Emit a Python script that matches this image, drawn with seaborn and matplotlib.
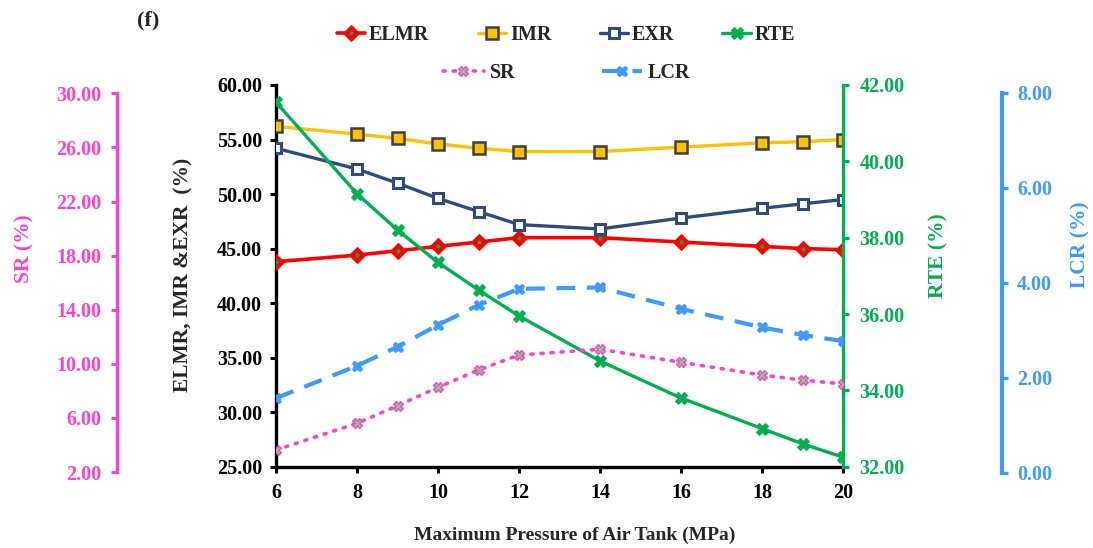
import matplotlib
matplotlib.use("Agg")
import matplotlib.pyplot as plt
import seaborn as sns
import numpy as np
from matplotlib.ticker import FormatStrFormatter
from matplotlib.legend_handler import HandlerTuple

# ---------------- data ----------------
pressure = [6, 8, 9, 10, 11, 12, 14, 16, 18, 19, 20]
elmr = [43.8, 44.4, 44.8, 45.2, 45.6, 46.0, 46.0, 45.6, 45.2, 45.0, 44.9]
imr = [56.2, 55.5, 55.1, 54.6, 54.2, 53.9, 53.9, 54.3, 54.7, 54.8, 55.0]
exr = [54.2, 52.3, 51.0, 49.6, 48.4, 47.2, 46.8, 47.8, 48.7, 49.1, 49.5]
rte = [41.55, 39.15, 38.2, 37.35, 36.63, 35.95, 34.77, 33.8, 33.0, 32.6, 32.25]
sr = [3.63, 5.60, 6.90, 8.26, 9.54, 10.65, 11.08, 10.11, 9.17, 8.80, 8.51]
lcr = [1.57, 2.25, 2.65, 3.11, 3.53, 3.87, 3.90, 3.45, 3.06, 2.90, 2.77]

x_ticks = [6, 8, 10, 12, 14, 16, 18, 20]
main_ticks = [25, 30, 35, 40, 45, 50, 55, 60]
rte_ticks = [32, 34, 36, 38, 40, 42]
sr_ticks = [2, 6, 10, 14, 18, 22, 26, 30]
lcr_ticks = [0, 2, 4, 6, 8]

# ---------------- style ----------------
sns.set_style("white")
plt.rcParams['font.family'] = ['Liberation Serif', 'DejaVu Serif']
plt.rcParams['font.weight'] = 'bold'
plt.rcParams['axes.labelweight'] = 'bold'

RED = '#FF0000'
ORANGE = '#FFC000'
NAVY = '#2E4A7E'
GREEN = '#00B050'
PINK = '#FF3FCF'
BLUE = '#3D9BFF'
BLACK = '#000000'
TFS = 14.5

W, H = 1093, 548
fig = plt.figure(figsize=(W / 100, H / 100), dpi=100)

def box(x0, x1, y_top, y_bot):
    return [x0 / W, 1 - y_bot / H, (x1 - x0) / W, (y_bot - y_top) / H]

ax = fig.add_axes(box(276, 843, 85, 466.7))
ax_rte = ax.twinx()
ax_sr = fig.add_axes(box(276, 843, 93.3, 472), sharex=ax)
ax_lcr = fig.add_axes(box(276, 843, 92.7, 472.7), sharex=ax)

for a in (ax_rte, ax_sr, ax_lcr):
    a.patch.set_visible(False)

# ---------------- lines ----------------
sns.lineplot(x=pressure, y=elmr, ax=ax, color=RED, lw=2.6, marker='D', ms=8.5,
             mfc=RED, mec=RED, label='ELMR', legend=False, zorder=5)
sns.lineplot(x=pressure, y=imr, ax=ax, color=ORANGE, lw=2.4, marker='s', ms=8.5,
             mfc=ORANGE, mec='#3F3F3F', mew=1.8, label='IMR', legend=False, zorder=5)
sns.lineplot(x=pressure, y=exr, ax=ax, color=NAVY, lw=2.4, marker='s', ms=7.5,
             mfc='white', mec=NAVY, mew=2.2, label='EXR', legend=False, zorder=5)
sns.lineplot(x=pressure, y=elmr, ax=ax, color=GREEN, linestyle='none', marker='o',
             ms=2.2, mfc=GREEN, mec=GREEN, legend=False, zorder=6)
sns.lineplot(x=pressure, y=rte, ax=ax_rte, color=GREEN, lw=2.4, marker='X', ms=8,
             mfc=GREEN, mec=GREEN, label='RTE', legend=False, zorder=5)
sns.lineplot(x=pressure, y=sr, ax=ax_sr, color=PINK, lw=2.6, linestyle=(0, (0.6, 2.2)),
             dash_capstyle='round', marker='X', ms=7, mfc='#7FD07F', mec=PINK, mew=1.0,
             label='SR', legend=False, zorder=5)
sns.lineplot(x=pressure, y=lcr, ax=ax_lcr, color=BLUE, lw=3.0, linestyle=(0, (4.5, 2.8)),
             marker='X', ms=7.5, mfc=BLUE, mec=BLUE, label='LCR', legend=False, zorder=5)

# ---------------- axes ----------------
ax.set_xlim(6, 20)
ax.set_xticks(x_ticks)
ax.set_ylim(25, 60)
ax.set_yticks(main_ticks)
ax_rte.set_ylim(32, 42)
ax_rte.set_yticks(rte_ticks)
ax_sr.set_ylim(2, 30)
ax_sr.set_yticks(sr_ticks)
ax_lcr.set_ylim(0, 8)
ax_lcr.set_yticks(lcr_ticks)

fmt = FormatStrFormatter('%.2f')
for a in (ax, ax_rte, ax_sr, ax_lcr):
    a.yaxis.set_major_formatter(fmt)
    for s in a.spines.values():
        s.set_visible(False)

# main axes
ax.spines['left'].set_visible(True)
ax.spines['left'].set_color(BLACK)
ax.spines['left'].set_linewidth(2.4)
ax.spines['bottom'].set_visible(True)
ax.spines['bottom'].set_color(BLACK)
ax.spines['bottom'].set_linewidth(2.4)
ax.tick_params(axis='both', which='major', direction='out', length=4, width=2.2,
               colors=BLACK, labelsize=TFS, pad=6, left=True, bottom=True)
ax.tick_params(axis='x', pad=8)

# RTE
ax_rte.spines['right'].set_visible(True)
ax_rte.spines['right'].set_color(GREEN)
ax_rte.spines['right'].set_linewidth(2.4)
ax_rte.tick_params(axis='y', direction='out', length=4, width=2.2, colors=GREEN,
                   labelsize=TFS, pad=8, right=True)

# SR
ax_sr.spines['left'].set_visible(True)
ax_sr.spines['left'].set_position(('axes', (116.7 - 276) / 567))
ax_sr.spines['left'].set_color(PINK)
ax_sr.spines['left'].set_linewidth(2.4)
ax_sr.yaxis.set_ticks_position('left')
ax_sr.yaxis.set_label_position('left')
ax_sr.tick_params(axis='y', direction='out', length=4, width=2.2, colors=PINK,
                  labelsize=TFS, pad=7, left=True)
ax_sr.xaxis.set_visible(False)

# LCR
ax_lcr.spines['right'].set_visible(True)
ax_lcr.spines['right'].set_position(('axes', (1001.7 - 276) / 567))
ax_lcr.spines['right'].set_color(BLUE)
ax_lcr.spines['right'].set_linewidth(3.0)
ax_lcr.yaxis.set_ticks_position('right')
ax_lcr.yaxis.set_label_position('right')
ax_lcr.tick_params(axis='y', direction='out', length=4, width=2.4, colors=BLUE,
                   labelsize=TFS, pad=7, right=True)
ax_lcr.xaxis.set_visible(False)

for a in (ax, ax_rte, ax_sr, ax_lcr):
    for lab in a.get_yticklabels() + a.get_xticklabels():
        lab.set_fontweight('bold')

# labels
LFS = 15.5
ax.set_xlabel('Maximum Pressure of Air Tank (MPa)', fontsize=14, fontweight='bold')
ax.xaxis.label.set_va('center')
ax.xaxis.set_label_coords((575 - 276) / 567, (466.7 - 535) / 381.7)

ax.set_ylabel('ELMR, IMR &EXR  (%)', fontsize=LFS, fontweight='bold')
ax.yaxis.label.set_va('center')
ax.yaxis.set_label_coords((183 - 276) / 567, (466.7 - 275) / 381.7)

ax_rte.set_ylabel('RTE (%)', fontsize=LFS, fontweight='bold', color=GREEN, rotation=90)
ax_rte.yaxis.label.set_va('center')
ax_rte.yaxis.set_label_coords((938 - 276) / 567, (466.7 - 256) / 381.7)

ax_sr.set_ylabel('SR (%)', fontsize=LFS, fontweight='bold', color=PINK)
ax_sr.yaxis.label.set_va('center')
ax_sr.yaxis.set_label_coords((24 - 276) / 567, (472 - 249) / 378.7)

ax_lcr.set_ylabel('LCR (%)', fontsize=LFS, fontweight='bold', color=BLUE, rotation=90)
ax_lcr.yaxis.label.set_va('center')
ax_lcr.yaxis.set_label_coords((1080 - 276) / 567, (472.7 - 245) / 380)

fig.text(148 / W, 1 - 20 / H, '(f)', fontsize=16, fontweight='bold', ha='center', va='center')

# ---------------- legends ----------------
lines_main = ax.get_lines()
l_elmr, l_imr, l_exr, l_dot = lines_main[0], lines_main[1], lines_main[2], lines_main[3]
l_rte = ax_rte.get_lines()[0]
l_sr = ax_sr.get_lines()[0]
l_lcr = ax_lcr.get_lines()[0]

leg_font = {'weight': 'bold', 'size': 14.5}
leg1 = fig.legend([(l_elmr, l_dot), l_imr, l_exr, l_rte], ['ELMR', 'IMR', 'EXR', 'RTE'],
                  loc='center', bbox_to_anchor=(566 / W, 1 - 35 / H), ncol=4,
                  frameon=False, prop=leg_font, handlelength=1.4, handletextpad=0.2,
                  columnspacing=2.4, numpoints=1,
                  handler_map={tuple: HandlerTuple(ndivide=1, pad=0)})
leg2 = fig.legend([l_sr, l_lcr], ['SR', 'LCR'],
                  loc='center', bbox_to_anchor=(567 / W, 1 - 73 / H), ncol=2,
                  frameon=False, prop=leg_font, handlelength=2.0, handletextpad=0.3,
                  columnspacing=4.3, numpoints=1)

fig.savefig('out.png', dpi=100)
